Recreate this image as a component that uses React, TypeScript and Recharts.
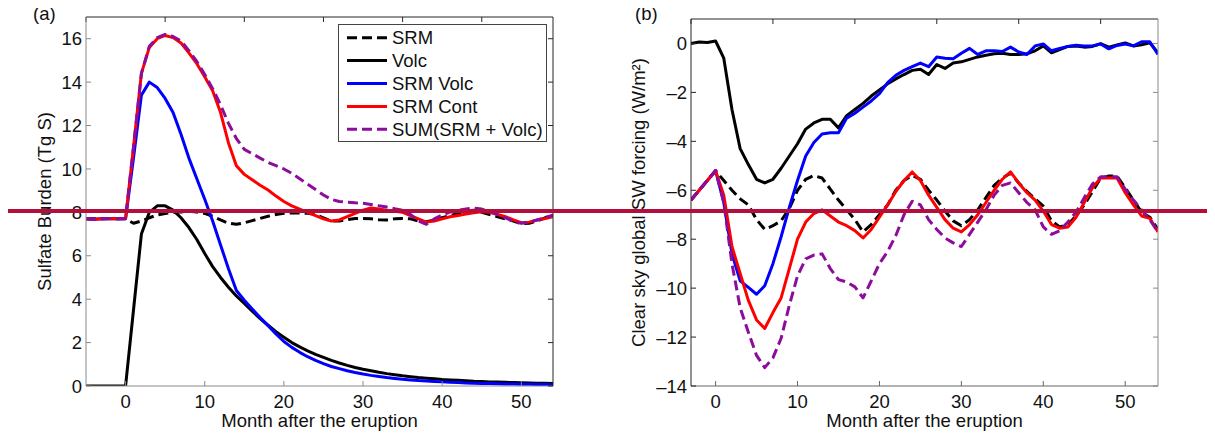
import { LineChart, Line, XAxis, YAxis, Legend } from "recharts";

const FONT = '"Liberation Sans", Arial, Helvetica, sans-serif';
const FS = 18.5;
const TICK = 5;

// month after the eruption
const monthsA = [
  -5, -4, -3, -2, -1, 0, 1, 2, 3, 4, 5, 6, 7, 8, 9, 10, 11, 12, 13, 14, 15, 16, 17, 18, 19, 20,
  21, 22, 23, 24, 25, 26, 27, 28, 29, 30, 31, 32, 33, 34, 35, 36, 37, 38, 39, 40, 41, 42, 43, 44,
  45, 46, 47, 48, 49, 50, 51, 52, 53, 54,
];
const monthsB = [
  -3, -2, -1, 0, 1, 2, 3, 4, 5, 6, 7, 8, 9, 10, 11, 12, 13, 14, 15, 16, 17, 18, 19, 20, 21, 22,
  23, 24, 25, 26, 27, 28, 29, 30, 31, 32, 33, 34, 35, 36, 37, 38, 39, 40, 41, 42, 43, 44, 45, 46,
  47, 48, 49, 50, 51, 52, 53, 54,
];

const xTicks = [0, 10, 20, 30, 40, 50];
const yTicksA = [0, 2, 4, 6, 8, 10, 12, 14, 16];
const yTicksB = [0, -2, -4, -6, -8, -10, -12, -14];

// (a) sulfate burden, Tg S
const srmA = [
  7.7, 7.7, 7.7, 7.72, 7.7, 7.7,
  7.5, 7.6, 7.75, 7.88, 7.95, 8.0, 8.02, 8.05, 8.02, 7.95,
  7.82, 7.65, 7.5, 7.45, 7.52, 7.62, 7.72, 7.82, 7.9, 7.96,
  7.98, 7.97, 7.96, 7.9, 7.75, 7.6, 7.6, 7.66, 7.72, 7.72,
  7.7, 7.66, 7.65, 7.7, 7.72, 7.7, 7.6, 7.57, 7.65, 7.75,
  7.85, 7.95, 8.05, 8.1, 8.0, 7.9, 7.8, 7.7, 7.6, 7.47,
  7.5, 7.6, 7.75, 7.88,
];
const volcA = [
  0, 0, 0, 0, 0, 0,
  3.5, 7.0, 8.0, 8.3, 8.3, 8.1, 7.75, 7.3, 6.75, 6.1,
  5.5, 5.0, 4.55, 4.15, 3.8, 3.45, 3.1, 2.8, 2.5, 2.25,
  2.0, 1.8, 1.62, 1.46, 1.32, 1.18, 1.06, 0.95, 0.85, 0.77,
  0.7, 0.63, 0.57, 0.52, 0.47, 0.43, 0.39, 0.36, 0.33, 0.3,
  0.28, 0.26, 0.24, 0.22, 0.21, 0.19, 0.18, 0.17, 0.16, 0.15,
  0.14, 0.13, 0.13, 0.12,
];
const srmVolcA = [
  7.7, 7.68, 7.7, 7.72, 7.7, 7.7,
  10.5, 13.4, 14.0, 13.75, 13.25, 12.6, 11.6, 10.5, 9.55, 8.6,
  7.6, 6.5, 5.4, 4.4, 3.95, 3.55, 3.15, 2.78, 2.4, 2.05,
  1.78, 1.55, 1.35, 1.18, 1.03, 0.9, 0.8, 0.7, 0.62, 0.55,
  0.49, 0.44, 0.39, 0.35, 0.31, 0.28, 0.25, 0.23, 0.21, 0.19,
  0.17, 0.16, 0.14, 0.13, 0.12, 0.11, 0.1, 0.09, 0.09, 0.08,
  0.08, 0.07, 0.07, 0.06,
];
const srmContA = [
  7.7, 7.68, 7.7, 7.72, 7.7, 7.72,
  11.0, 14.4, 15.6, 16.0, 16.15, 16.05, 15.8, 15.35, 14.85, 14.25,
  13.6, 12.6, 11.2, 10.15, 9.75, 9.5, 9.25, 9.03, 8.75, 8.5,
  8.3, 8.15, 8.0, 7.85, 7.7, 7.6, 7.65, 7.8, 7.95, 8.1,
  8.2, 8.15, 8.1, 8.05, 8.0, 7.85, 7.7, 7.55, 7.6, 7.7,
  7.8, 7.85, 7.92, 7.98, 8.03, 8.0, 7.9, 7.8, 7.65, 7.52,
  7.55, 7.65, 7.72, 7.8,
];
const sumA = [
  7.7, 7.68, 7.7, 7.72, 7.7, 7.72,
  11.0, 14.4, 15.65, 16.05, 16.2, 16.1, 15.9, 15.45, 14.95, 14.35,
  13.7, 12.95, 12.1, 11.4, 10.9, 10.7, 10.5, 10.3, 10.15, 10.0,
  9.8, 9.55, 9.3, 9.05, 8.8, 8.6, 8.5, 8.47, 8.44, 8.42,
  8.36, 8.3, 8.25, 8.17, 8.1, 7.9, 7.6, 7.45, 7.7, 7.88,
  8.02, 8.1, 8.15, 8.2, 8.15, 8.05, 7.9, 7.75, 7.58, 7.5,
  7.55, 7.65, 7.75, 7.88,
];

// (b) clear sky global SW forcing, W/m2
const srmB = [
  -6.4, -6.0, -5.6, -5.2,
  -5.6, -6.0, -6.35, -6.6, -7.2, -7.6, -7.45, -7.25, -6.75, -6.0,
  -5.55, -5.4, -5.5, -5.95, -6.4, -6.8, -7.2, -7.7, -7.4, -7.0,
  -6.6, -6.0, -5.6, -5.4, -5.55, -6.0, -6.4, -6.85, -7.25, -7.45,
  -7.2, -6.8, -6.3, -5.8, -5.5, -5.3, -5.7, -6.05, -6.35, -6.65,
  -7.25, -7.5, -7.4, -7.05, -6.6, -6.05, -5.5, -5.42, -5.42, -5.9,
  -6.4, -6.9, -7.1, -7.6,
];
const volcB = [
  0.0, 0.06, 0.04, 0.1,
  -0.6, -2.7, -4.3, -4.95, -5.55, -5.7, -5.55, -5.1, -4.6, -4.1,
  -3.5, -3.25, -3.1, -3.1, -3.45, -2.95, -2.7, -2.45, -2.15, -1.9,
  -1.65, -1.45, -1.27, -1.1, -1.05, -1.27, -0.86, -1.02, -0.8, -0.75,
  -0.65, -0.55, -0.48, -0.42, -0.4, -0.45, -0.45, -0.42, -0.3, -0.1,
  -0.38, -0.25, -0.12, -0.1, -0.15, -0.12, -0.01, -0.15, -0.06, 0.02,
  -0.1, -0.05, 0.03, -0.38,
];
const srmVolcB = [
  -6.4, -6.0, -5.6, -5.2,
  -6.5, -8.6, -9.7, -9.97, -10.25, -9.9, -9.0, -7.9, -6.7, -5.6,
  -4.6, -4.05, -3.7, -3.65, -3.65, -3.05, -2.85, -2.6, -2.35, -2.05,
  -1.6, -1.3, -1.1, -0.95, -0.8, -0.95, -0.55, -0.6, -0.62, -0.4,
  -0.2, -0.45, -0.3, -0.3, -0.33, -0.15, -0.35, -0.45, -0.1, -0.02,
  -0.3, -0.2, -0.12, -0.07, -0.1, -0.1, -0.02, -0.22, -0.08, -0.02,
  -0.1, 0.07, 0.07, -0.45,
];
const srmContB = [
  -6.4, -6.0, -5.6, -5.2,
  -6.2, -8.3, -9.4, -10.5, -11.3, -11.65, -11.0, -10.4, -9.2, -8.0,
  -7.3, -6.95, -6.8, -7.05, -7.3, -7.45, -7.65, -7.95, -7.6, -7.1,
  -6.6, -6.05, -5.6, -5.25, -5.6, -6.2, -6.7, -7.2, -7.55, -7.7,
  -7.4, -7.0, -6.5, -6.0, -5.55, -5.25, -5.7, -6.1, -6.4, -6.85,
  -7.4, -7.55, -7.5, -7.1, -6.5, -5.9, -5.5, -5.5, -5.5, -6.1,
  -6.6, -7.05, -7.15, -7.7,
];
const sumB = [
  -6.4, -6.0, -5.6, -5.2,
  -6.5, -9.0, -10.8, -11.8, -12.75, -13.25, -12.85, -12.05, -10.7, -9.5,
  -8.8, -8.65, -8.6, -9.2, -9.65, -9.75, -9.95, -10.4, -9.7, -9.0,
  -8.5, -7.85, -7.0, -6.45, -6.6, -7.2, -7.6, -7.95, -8.15, -8.3,
  -7.8, -7.3, -6.8, -6.2, -5.8, -5.7, -6.1, -6.5, -6.8, -7.5,
  -7.8, -7.65, -7.3, -6.9, -6.3, -5.75, -5.45, -5.45, -5.45, -5.95,
  -6.4, -6.8, -7.2, -7.7,
];

const SERIES = [
  { key: "srm", name: "SRM", color: "#000000", dash: "10 5" },
  { key: "volc", name: "Volc", color: "#000000", dash: undefined },
  { key: "srmVolc", name: "SRM Volc", color: "#0000ff", dash: undefined },
  { key: "srmCont", name: "SRM Cont", color: "#ff0000", dash: undefined },
  { key: "sum", name: "SUM(SRM + Volc)", color: "#8c0c9c", dash: "10 5" },
];

const tableA = monthsA.map((m, i) => ({
  m,
  srm: srmA[i],
  volc: volcA[i],
  srmVolc: srmVolcA[i],
  srmCont: srmContA[i],
  sum: sumA[i],
}));
const tableB = monthsB.map((m, i) => ({
  m,
  srm: srmB[i],
  volc: volcB[i],
  srmVolc: srmVolcB[i],
  srmCont: srmContB[i],
  sum: sumB[i],
}));

const fmt = (v: number) => (v < 0 ? "\u2013" + Math.abs(v) : String(v));

// tick labels plus an inward tick mark (matlab style)
const BottomTick = ({ x = 0, y = 0, payload, gap, color }: any) => (
  <g>
    <line x1={x} x2={x} y1={y - gap} y2={y - gap - TICK} stroke={color} />
    <text x={x} y={y} dy="0.71em" textAnchor="middle" fontSize={FS} fontFamily={FONT} fill="#111">
      {fmt(payload.value)}
    </text>
  </g>
);
const LeftTick = ({ x = 0, y = 0, payload, gap, color }: any) => (
  <g>
    <line x1={x + gap} x2={x + gap + TICK} y1={y} y2={y} stroke={color} />
    <text x={x} y={y} dy="0.355em" textAnchor="end" fontSize={FS} fontFamily={FONT} fill="#111">
      {fmt(payload.value)}
    </text>
  </g>
);
const NoTick = () => <g />;

const LegendBox = () => (
  <div style={{ width: 207, height: 116, border: "1px solid #444", background: "#fff" }}>
    <svg width={207} height={116} style={{ display: "block" }}>
      {SERIES.map((s, i) => {
        const cy = 12.7 + i * 22.9;
        return (
          <g key={s.key}>
            <line x1={8} x2={48} y1={cy} y2={cy} stroke={s.color} strokeWidth={3} strokeDasharray={s.dash} />
            <text x={53} y={cy} dy="0.355em" fontSize={FS} fontFamily={FONT} fill="#111">
              {s.name}
            </text>
          </g>
        );
      })}
    </svg>
  </div>
);

const labelStyle = { fontSize: FS, fontFamily: FONT, fill: "#111", textAnchor: "middle" as const };

function Panel({
  data,
  width,
  margin,
  xDomain,
  yDomain,
  yTicks,
  yLabel,
  yLabelOffset,
  colors,
  legend,
}: any) {
  return (
    <LineChart width={width} height={430} data={data} margin={margin} style={{ fontFamily: FONT }}>
      <XAxis
        xAxisId="x"
        dataKey="m"
        type="number"
        domain={xDomain}
        ticks={xTicks}
        interval={0}
        allowDataOverflow
        height={42}
        tickSize={0}
        tickMargin={9}
        tickLine={false}
        axisLine={{ stroke: colors.bottom }}
        tick={<BottomTick gap={9} color={colors.bottom} />}
        label={{ value: "Month after the eruption", position: "insideBottom", offset: 1, style: labelStyle }}
      />
      <XAxis
        xAxisId="top"
        orientation="top"
        mirror
        type="number"
        domain={xDomain}
        ticks={xTicks}
        interval={0}
        allowDataOverflow
        tickSize={TICK}
        tickLine={{ stroke: colors.top }}
        axisLine={{ stroke: colors.top }}
        tick={NoTick}
      />
      <YAxis
        yAxisId="y"
        type="number"
        domain={yDomain}
        ticks={yTicks}
        interval={0}
        allowDataOverflow
        width={60}
        tickSize={0}
        tickMargin={4}
        tickLine={false}
        axisLine={{ stroke: colors.left }}
        tick={<LeftTick gap={4} color={colors.left} />}
        label={{ value: yLabel, angle: -90, position: "insideLeft", offset: yLabelOffset, style: labelStyle }}
      />
      <YAxis
        yAxisId="right"
        orientation="right"
        mirror
        type="number"
        domain={yDomain}
        ticks={yTicks}
        interval={0}
        allowDataOverflow
        tickSize={TICK}
        tickLine={{ stroke: colors.right }}
        axisLine={{ stroke: colors.right }}
        tick={NoTick}
      />
      {SERIES.map((s) => (
        <Line
          key={s.key}
          xAxisId="x"
          yAxisId="y"
          type="linear"
          dataKey={s.key}
          name={s.name}
          stroke={s.color}
          strokeWidth={3}
          strokeDasharray={s.dash}
          strokeLinejoin="round"
          dot={false}
          activeDot={false}
          isAnimationActive={false}
        />
      ))}
      {legend && (
        <Legend
          layout="horizontal"
          verticalAlign="middle"
          align="center"
          wrapperStyle={{ left: 330, top: 16, width: "auto", height: "auto" }}
          content={() => <LegendBox />}
        />
      )}
    </LineChart>
  );
}

export default function App() {
  const panelLabel = { position: "absolute" as const, top: -3, fontSize: FS, lineHeight: `${FS}px`, color: "#111" };
  return (
    <div style={{ position: "relative", width: 1207, height: 430, fontFamily: FONT, background: "#fff" }}>
      <div style={{ position: "absolute", left: 0, top: 0 }}>
        <Panel
          data={tableA}
          width={560}
          margin={{ top: 9, right: 15, bottom: 10, left: 18 }}
          xDomain={[-5, 54]}
          yDomain={[0, 17]}
          yTicks={yTicksA}
          yLabel="Sulfate Burden (Tg S)"
          yLabelOffset={18}
          colors={{ left: "#8a8a8a", bottom: "#8a8a8a", top: "#262626", right: "#262626" }}
          legend
        />
      </div>
      <div style={{ position: "absolute", left: 592, top: 0 }}>
        <Panel
          data={tableB}
          width={580}
          margin={{ top: 11, right: 22, bottom: 10, left: 31 }}
          xDomain={[-3, 54]}
          yDomain={[-14, 1]}
          yTicks={yTicksB}
          yLabel="Clear sky global SW forcing (W/m²)"
          yLabelOffset={7}
          colors={{ left: "#262626", bottom: "#666666", top: "#262626", right: "#8a8a8a" }}
        />
      </div>
      <div style={{ ...panelLabel, left: 25 }}>(a)</div>
      <div style={{ ...panelLabel, left: 627 }}>(b)</div>
      <div style={{ position: "absolute", left: -1, top: 201, width: 1208, height: 4, background: "#b20f3c", zIndex: 5 }} />
    </div>
  );
}
